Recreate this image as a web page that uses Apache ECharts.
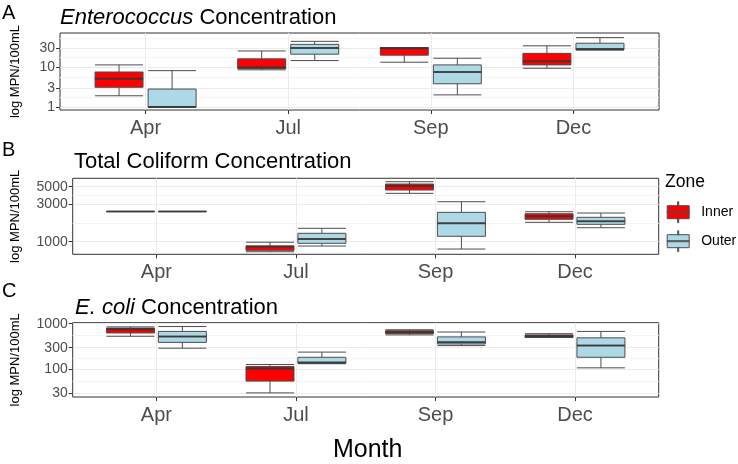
<!DOCTYPE html>
<html><head><meta charset="utf-8">
<script src="https://cdn.jsdelivr.net/npm/echarts@6/dist/echarts.min.js"></script>
<style>html,body{margin:0;padding:0;background:#fff}#c{width:738px;height:464px}</style>
</head><body><div id="c"></div>
<script>
const months = ['Apr', 'Jul', 'Sep', 'Dec'];
const zones = ['Inner', 'Outer'];
// [min, Q1, median, Q3, max] per month (MPN/100mL)
const enteroInner = [[1.9, 3.1, 5.1, 7.5, 11.3], [8.5, 9.1, 9.7, 16, 25.3], [13.2, 19.8, 29.5, 30.6, 30.6], [9.3, 11.3, 14, 22, 34]];
const enteroOuter = [[1, 1, 1, 2.8, 8.1], [14.5, 21, 30, 37, 44], [2.0, 3.8, 7.5, 11.3, 16.6], [26.8, 26.8, 28.4, 39.5, 54.6]];
const coliformInner = [[2420, 2420, 2420, 2420, 2420], [746, 777, 870, 881, 985], [4120, 4540, 5100, 5410, 5790], [1763, 1927, 2103, 2268, 2404]];
const coliformOuter = [[2420, 2420, 2420, 2420, 2420], [881, 954, 1082, 1279, 1480], [807, 1172, 1713, 2363, 3222], [1506, 1664, 1816, 2042, 2315]];
const ecoliInner = [[531, 627, 754, 800, 851], [31, 56, 105, 116, 129], [568, 605, 650, 702, 736], [499, 499, 532, 568, 605]];
const ecoliOuter = [[292, 391, 524, 678, 865], [134, 138, 143, 185, 240], [333, 360, 396, 515, 658], [109, 185, 333, 491, 678]];
const enteroTicks = [1, 3, 10, 30];
const coliformTicks = [1000, 3000, 5000];
const ecoliTicks = [30, 100, 300, 1000];

const FONT = 'Liberation Sans, Arial, sans-serif';
const lg = v => Math.log10(v);
const colors = { Inner: '#FF0000', Outer: '#ADD8E6' };
const DODGE = 0.186; // half dodge distance, in category units

const panels = [
  { inner: enteroInner, outer: enteroOuter, ticks: enteroTicks, ext: [-0.078, 1.853], grid: { left: 60, right: 79, top: 33, height: 77 }, nameGap: 38 },
  { inner: coliformInner, outer: coliformOuter, ticks: coliformTicks, ext: [2.84, 3.806], grid: { left: 72.7, right: 79.3, top: 178.3, height: 76 }, nameGap: 51 },
  { inner: ecoliInner, outer: ecoliOuter, ticks: ecoliTicks, ext: [1.402, 3.021], grid: { left: 72.7, right: 79.3, top: 322.7, height: 76.6 }, nameGap: 51 }
];

function minorBreaks(ticks, ext) {
  const b = ticks.map(lg);
  const bd = b[1] - b[0];
  const all = [b[0] - bd, ...b, b[b.length - 1] + bd];
  const out = [];
  for (let i = 0; i < all.length - 1; i++) {
    const m = (all[i] + all[i + 1]) / 2;
    if (m > ext[0] && m < ext[1]) out.push(m);
  }
  return out;
}

const grids = [], xAxes = [], yAxes = [], series = [];
panels.forEach((p, gi) => {
  grids.push(Object.assign({ show: true, borderColor: '#333333', borderWidth: 1, backgroundColor: 'transparent' }, p.grid));
  const xIdx = months.map((m, i) => i);
  xAxes.push({
    type: 'value', gridIndex: gi, min: -0.6, max: 3.6,
    axisLine: { show: false, onZero: false },
    axisTick: { show: true, length: 4, lineStyle: { color: '#333333' }, customValues: xIdx },
    axisLabel: { customValues: xIdx, formatter: v => months[Math.round(v)] || '', fontSize: 20, color: '#4D4D4D', fontFamily: FONT, margin: 8.5, lineHeight: 20 },
    splitLine: { show: true, lineStyle: { color: '#EBEBEB', width: 1 } },
    name: gi === 2 ? 'Month' : '', nameLocation: 'middle', nameGap: 41,
    nameTextStyle: { fontSize: 25, color: '#000', fontFamily: FONT, padding: [0, 0, 0, 4] }
  });
  // second (hidden) x axis so each zone is laid out on its own, dodged by DODGE
  xAxes.push({ type: 'value', gridIndex: gi, min: -0.6, max: 3.6, show: false, axisLine: { onZero: false } });
  const tv = p.ticks.map(lg);
  yAxes.push({
    type: 'value', gridIndex: gi, min: p.ext[0], max: p.ext[1],
    axisLine: { show: false, onZero: false },
    axisTick: { show: true, length: 4, lineStyle: { color: '#333333' }, customValues: tv },
    axisLabel: { customValues: tv, formatter: v => String(Math.round(Math.pow(10, v))), fontSize: 14, color: '#4D4D4D', fontFamily: FONT, margin: 5 },
    splitLine: { show: true, lineStyle: { color: '#EBEBEB', width: 1 } },
    name: 'log MPN/100mL', nameLocation: 'middle', nameRotate: 90, nameGap: p.nameGap,
    nameTextStyle: { fontSize: 13, color: '#000', fontFamily: FONT }
  });
  yAxes.push({
    type: 'value', gridIndex: gi, min: p.ext[0], max: p.ext[1],
    axisLine: { show: false, onZero: false },
    axisTick: { show: false, customValues: minorBreaks(p.ticks, p.ext) },
    axisLabel: { show: false },
    splitLine: { show: true, lineStyle: { color: '#F4F4F4', width: 1 } }
  });
  [['Inner', p.inner, -1], ['Outer', p.outer, 1]].forEach(([z, arr, side], k) => {
    series.push({
      name: z, type: 'boxplot', xAxisIndex: gi * 2 + k, yAxisIndex: gi * 2,
      boxWidth: [48, 48],
      itemStyle: { color: colors[z], borderColor: '#4D4D4D', borderWidth: 1 },
      data: arr.map((d, i) => [i + side * DODGE, ...d.map(lg)]),
      silent: true
    });
    // thicker median bar (ggplot style)
    series.push({
      type: 'scatter', xAxisIndex: gi * 2 + k, yAxisIndex: gi * 2,
      symbol: 'rect', symbolSize: [48, 2], z: 3,
      itemStyle: { color: '#333333' },
      data: arr.map((d, i) => [i + side * DODGE, lg(d[2])]),
      silent: true
    });
  });
});

const boxIcon = 'path://M0,4 L22,4 L22,17 L0,17 Z M10.5,0 L11.5,0 L11.5,4 L10.5,4 Z M10.5,17 L11.5,17 L11.5,21 L10.5,21 Z M0,10 L22,10 L22,11 L0,11 Z';
const T = { fontSize: 22, fontWeight: 'normal', color: '#000', fontFamily: FONT, lineHeight: 24 };
const italic = { i: { fontStyle: 'italic', fontSize: 22, fontFamily: FONT, color: '#000', lineHeight: 24 } };

const option = {
  animation: false,
  backgroundColor: '#fff',
  title: [
    { text: 'A', left: 2, top: 3, padding: 0, textStyle: { fontSize: 20, fontWeight: 'normal', color: '#000', fontFamily: FONT } },
    { text: 'B', left: 2, top: 140, padding: 0, textStyle: { fontSize: 20, fontWeight: 'normal', color: '#000', fontFamily: FONT } },
    { text: 'C', left: 2, top: 281, padding: 0, textStyle: { fontSize: 20, fontWeight: 'normal', color: '#000', fontFamily: FONT } },
    { text: '{i|Enterococcus} Concentration', left: 60, top: 5.5, padding: 0, textStyle: Object.assign({ rich: italic }, T) },
    { text: 'Total Coliform Concentration', left: 74, top: 149.7, padding: 0, textStyle: T },
    { text: '{i|E. coli} Concentration', left: 75, top: 296.3, padding: 0, textStyle: Object.assign({ rich: italic }, T) },
    { text: 'Zone', left: 665, top: 173, padding: 0, textStyle: { fontSize: 17.5, fontWeight: 'normal', color: '#000', fontFamily: FONT } }
  ],
  legend: {
    data: zones.map(z => ({ name: z, icon: boxIcon, itemStyle: { color: colors[z], borderColor: '#4D4D4D', borderWidth: 1 } })),
    orient: 'vertical', left: 666.7, top: 201.2, padding: 0,
    itemWidth: 22, itemHeight: 21, itemGap: 7,
    textStyle: { fontSize: 14, color: '#000', fontFamily: FONT, padding: [0, 0, 0, 7] },
    selectedMode: false
  },
  grid: grids, xAxis: xAxes, yAxis: yAxes, series: series
};
const chart = echarts.init(document.getElementById('c'), null, { renderer: 'canvas' });
chart.setOption(option);
</script>
</body></html>
